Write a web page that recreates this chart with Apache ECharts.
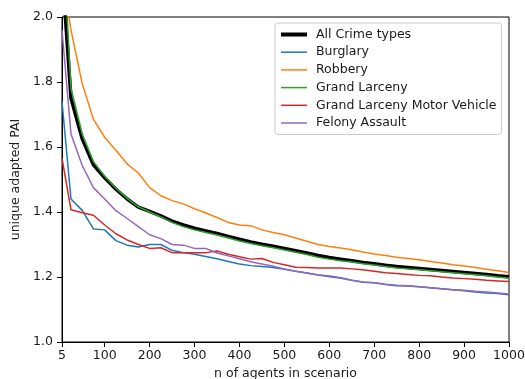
<!DOCTYPE html>
<html>
<head>
<meta charset="utf-8">
<script src="https://cdn.jsdelivr.net/npm/echarts@6/dist/echarts.min.js"></script>
<style>
html,body{margin:0;padding:0;background:#fff;}
#chart{width:525px;height:379px;}
</style>
</head>
<body>
<div id="chart"></div>
<script>
var agents = [5,25,50,75,100,125,150,175,200,225,250,275,300,325,350,375,400,425,450,475,500,525,550,575,600,625,650,675,700,725,750,775,800,825,850,875,900,925,950,975,1000];
var xTicks = [5,100,200,300,400,500,600,700,800,900,1000];
var seriesNames = ["All Crime types","Burglary","Robbery","Grand Larceny","Grand Larceny Motor Vehicle","Felony Assault"];

var allCrime = [2.15,1.75,1.625,1.545,1.505,1.47,1.44,1.415,1.402,1.388,1.372,1.36,1.35,1.342,1.334,1.325,1.316,1.308,1.301,1.295,1.288,1.281,1.274,1.266,1.26,1.255,1.25,1.245,1.241,1.236,1.232,1.229,1.226,1.223,1.22,1.217,1.214,1.211,1.208,1.204,1.201];
var burglary = [1.74,1.44,1.405,1.348,1.345,1.312,1.298,1.292,1.30,1.30,1.282,1.275,1.27,1.263,1.256,1.248,1.24,1.235,1.232,1.229,1.224,1.218,1.212,1.206,1.203,1.198,1.19,1.184,1.182,1.177,1.173,1.172,1.17,1.167,1.164,1.161,1.158,1.154,1.151,1.149,1.145];
var robbery = [2.13,1.96,1.795,1.685,1.63,1.59,1.548,1.52,1.475,1.45,1.435,1.425,1.41,1.397,1.383,1.368,1.36,1.358,1.345,1.337,1.33,1.32,1.31,1.3,1.294,1.289,1.284,1.277,1.271,1.266,1.261,1.257,1.253,1.248,1.243,1.238,1.234,1.229,1.224,1.219,1.214];
var grandLarceny = [2.3,1.78,1.64,1.555,1.51,1.473,1.442,1.416,1.4,1.385,1.368,1.355,1.345,1.337,1.329,1.32,1.311,1.303,1.296,1.29,1.283,1.276,1.269,1.261,1.255,1.25,1.246,1.241,1.237,1.232,1.228,1.225,1.222,1.219,1.216,1.213,1.21,1.207,1.204,1.2,1.196];
var glmv = [1.565,1.407,1.398,1.39,1.36,1.333,1.314,1.3,1.288,1.29,1.275,1.275,1.275,1.275,1.28,1.27,1.262,1.255,1.257,1.245,1.238,1.23,1.229,1.228,1.228,1.228,1.225,1.222,1.218,1.213,1.211,1.208,1.205,1.204,1.2,1.197,1.195,1.193,1.19,1.188,1.186];
var felonyAssault = [1.96,1.64,1.543,1.475,1.44,1.404,1.38,1.355,1.33,1.318,1.30,1.298,1.288,1.288,1.274,1.265,1.256,1.247,1.24,1.233,1.225,1.218,1.212,1.206,1.201,1.196,1.19,1.185,1.182,1.178,1.175,1.173,1.17,1.167,1.164,1.161,1.159,1.156,1.154,1.151,1.148];

var colors = ["#000000","#1f77b4","#ff7f0e","#2ca02c","#d62728","#9467bd"];
var widths = [3.5,1.5,1.5,1.5,1.5,1.5];
var values = [allCrime,burglary,robbery,grandLarceny,glmv,felonyAssault];

function pairs(ys){ return agents.map(function(x,i){ return [x, ys[i]]; }); }

var font = "DejaVu Sans";
var fs = 12.5;
var tc = '#1a1a1a';
var chart = echarts.init(document.getElementById('chart'), null, {renderer:'canvas'});
chart.setOption({
  animation:false,
  backgroundColor:'#fff',
  grid:{left:62,right:16,top:17,bottom:37,show:true,borderColor:'#000',borderWidth:1,backgroundColor:'transparent',containLabel:false,outerBoundsMode:'none'},
  legend:{
    orient:'vertical', left:275, top:23,
    data:seriesNames.map(function(n,i){ return {name:n, lineStyle:{width:i===0?4:1.5}}; }),
    itemWidth:26, itemHeight:14, itemGap:4.7,
    padding:[5,5,5,4],
    borderColor:'#cccccc', borderWidth:1, borderRadius:3,
    backgroundColor:'rgba(255,255,255,0.8)',
    itemStyle:{opacity:0, borderWidth:0},
    textStyle:{fontFamily:font,fontSize:fs,color:tc,padding:[0,0,0,4]}
  },
  xAxis:{
    type:'value', min:5, max:1000,
    name:'n of agents in scenario', nameLocation:'middle', nameGap:25,
    nameTextStyle:{fontFamily:font,fontSize:fs,color:tc},
    axisLine:{show:true,onZero:false,lineStyle:{color:'#000',width:1}},
    axisTick:{show:true,length:5,lineStyle:{color:'#000'},customValues:xTicks},
    axisLabel:{fontFamily:font,fontSize:fs,color:tc,margin:7,customValues:xTicks,formatter:function(v){return String(v);}},
    splitLine:{show:false}
  },
  yAxis:{
    type:'value', min:1.0, max:2.0, interval:0.2,
    name:'unique adapted PAI', nameLocation:'middle', nameGap:36,
    nameTextStyle:{fontFamily:font,fontSize:fs,color:tc},
    axisLine:{show:true,onZero:false,lineStyle:{color:'#000',width:1}},
    axisTick:{show:true,length:5,lineStyle:{color:'#000'}},
    axisLabel:{fontFamily:font,fontSize:fs,color:tc,margin:9,formatter:function(v){return v.toFixed(1);}},
    splitLine:{show:false}
  },
  series:seriesNames.map(function(n,i){
    return {
      name:n, type:'line', data:pairs(values[i]),
      symbol:'none', showSymbol:false, clip:true,
      lineStyle:{color:colors[i],width:widths[i]},
      itemStyle:{color:colors[i]},
      z:2
    };
  })
});
</script>
</body>
</html>
